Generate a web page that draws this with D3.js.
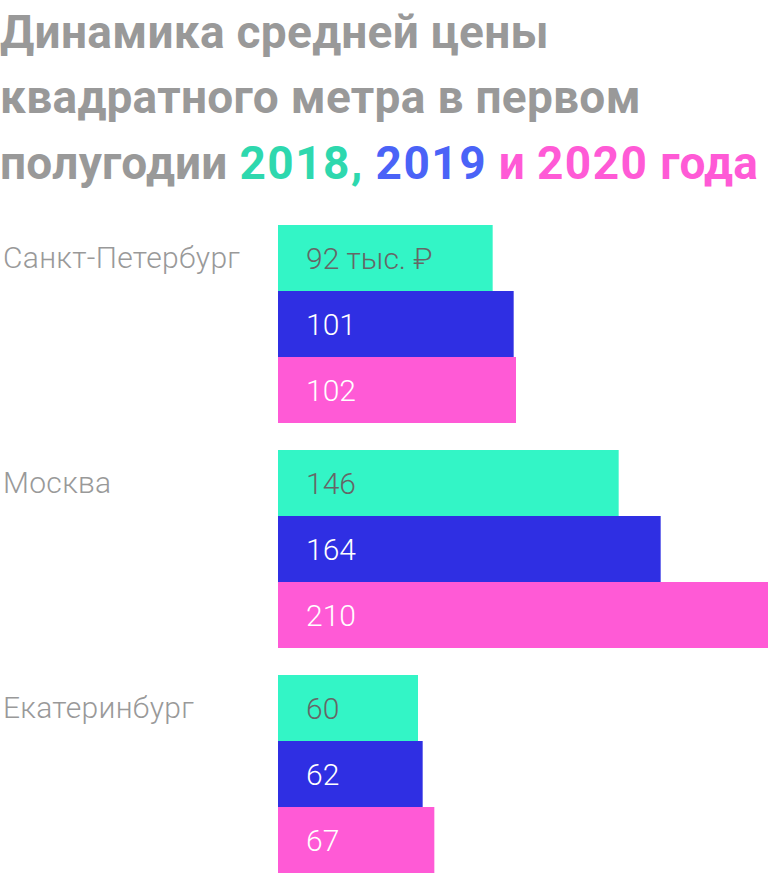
<!DOCTYPE html>
<html>
<head>
<meta charset="utf-8">
<script src="https://cdn.jsdelivr.net/npm/d3@7"></script>
<style>
  html, body { margin: 0; padding: 0; background: #fff; }
  svg { display: block; }
</style>
</head>
<body>
<div id="chart"></div>
<script>
"use strict";

// data
var cities = ["Санкт-Петербург", "Москва", "Екатеринбург"];
var years = ["2018", "2019", "2020"];
var values2018 = [92, 146, 60];
var values2019 = [101, 164, 62];
var values2020 = [102, 210, 67];
var valueLabels2018 = ["92 тыс. ₽", "146", "60"];
var valueLabels2019 = ["101", "164", "62"];
var valueLabels2020 = ["102", "210", "67"];

var width = 768, height = 874;

var barColor = { "2018": "#33f5c6", "2019": "#2f2fe3", "2020": "#ff5ad6" };
var labelColor = { "2018": "#666666", "2019": "#ffffff", "2020": "#ffffff" };
var titleColor = { "2018": "#2ed8ae", "2019": "#4a63f7", "2020": "#ff5ad6" };

// flatten for drawing
var rows = [];
cities.forEach((c, i) => {
    rows.push({ city: c, year: "2018", value: values2018[i], label: valueLabels2018[i] });
    rows.push({ city: c, year: "2019", value: values2019[i], label: valueLabels2019[i] });
    rows.push({ city: c, year: "2020", value: values2020[i], label: valueLabels2020[i] });
});

var svg = d3.select("#chart")
    .append("svg")
    .attr("width", width)
    .attr("height", height);

// title
var title = svg.append("text")
    .attr("font-family", "Roboto, sans-serif")
    .attr("font-weight", 700)
    .attr("font-size", 46)
    .attr("letter-spacing", 0.3)
    .attr("fill", "#999999");

title.append("tspan").attr("x", 0).attr("y", 48).text("Динамика средней цены");
title.append("tspan").attr("x", 0).attr("y", 113).text("квадратного метра в первом");
title.append("tspan").attr("x", 0).attr("y", 179).text("полугодии ");
title.append("tspan").attr("fill", titleColor["2018"]).attr("letter-spacing", 1.5).text("2018,");
title.append("tspan").text(" ");
title.append("tspan").attr("fill", titleColor["2019"]).attr("letter-spacing", 1.5).text("2019");
title.append("tspan").attr("fill", titleColor["2020"]).text(" и ");
title.append("tspan").attr("fill", titleColor["2020"]).attr("letter-spacing", 1.5).text("2020");
title.append("tspan").attr("fill", titleColor["2020"]).text(" года");

// scales
var x = d3.scaleLinear()
    .domain([0, 210])
    .range([278, 768]);

var y = d3.scaleBand()
    .domain(cities)
    .range([225, 873])
    .paddingInner(0.12)
    .paddingOuter(0);

var yInner = d3.scaleBand()
    .domain(years)
    .range([0, y.bandwidth()]);

// city labels
svg.selectAll(".city")
    .data(cities)
    .join("text")
    .attr("class", "city")
    .attr("x", 3)
    .attr("y", d => y(d) + yInner("2018") + yInner.bandwidth() / 2 - 1)
    .attr("dy", "0.35em")
    .attr("font-family", "Roboto, sans-serif")
    .attr("font-weight", 300)
    .attr("font-size", 30)
    .attr("letter-spacing", 0.3)
    .attr("fill", "#999999")
    .text(d => d);

// bars
svg.selectAll(".bar")
    .data(rows)
    .join("rect")
    .attr("class", "bar")
    .attr("x", x(0))
    .attr("y", d => y(d.city) + yInner(d.year))
    .attr("width", d => x(d.value) - x(0))
    .attr("height", yInner.bandwidth())
    .attr("fill", d => barColor[d.year]);

// value labels
svg.selectAll(".val")
    .data(rows)
    .join("text")
    .attr("class", "val")
    .attr("x", x(0) + 28)
    .attr("y", d => y(d.city) + yInner(d.year) + yInner.bandwidth() / 2)
    .attr("dy", "0.35em")
    .attr("font-family", "Roboto, sans-serif")
    .attr("font-weight", 300)
    .attr("font-size", 30)
    .attr("fill", d => labelColor[d.year])
    .text(d => d.label);
</script>
</body>
</html>
